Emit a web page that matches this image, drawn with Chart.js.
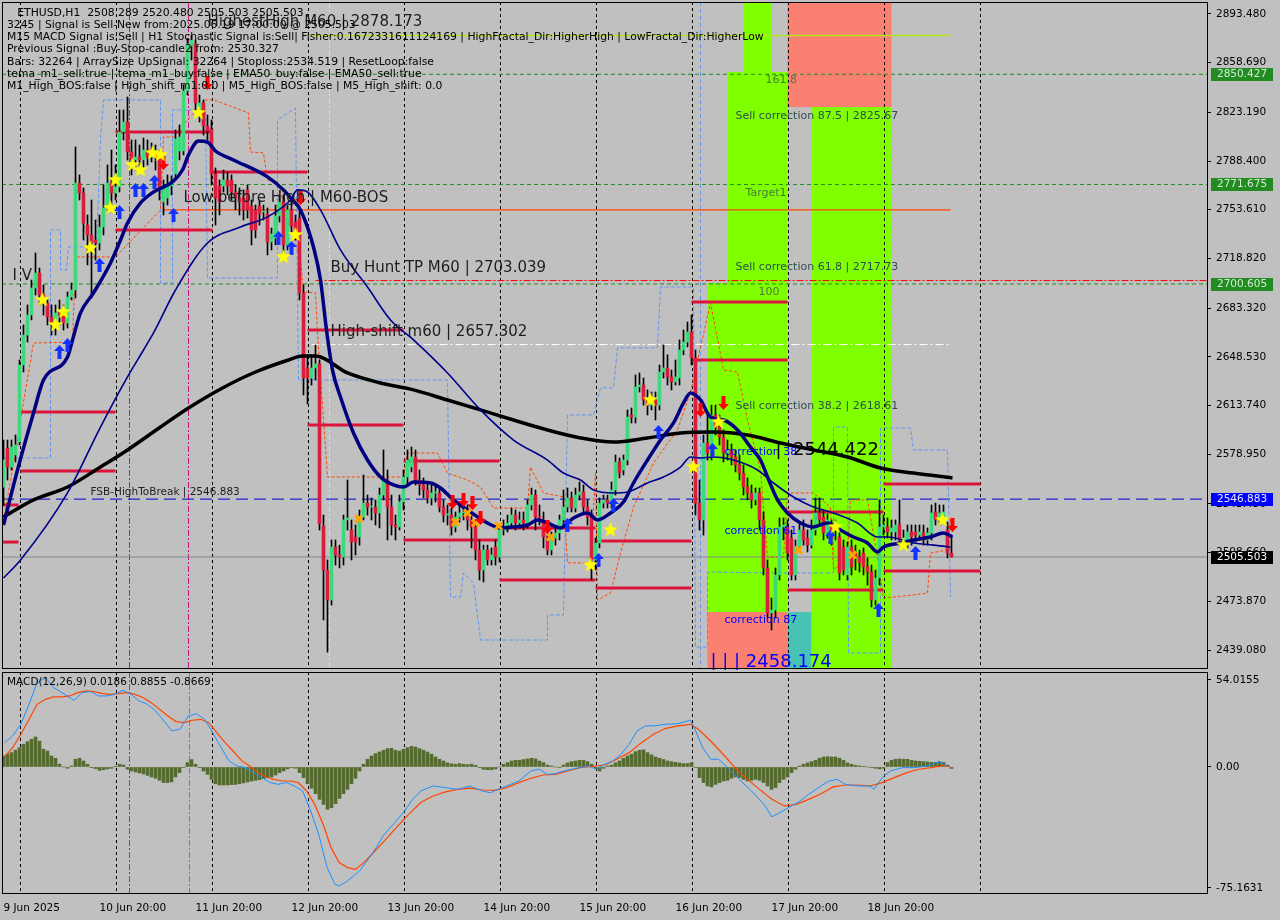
<!DOCTYPE html>
<html>
<head>
<meta charset="utf-8">
<script src="https://cdn.jsdelivr.net/npm/chart.js@4.4.1/dist/chart.umd.min.js"></script>
<style>
  html, body { margin: 0; padding: 0; background: #c0c0c0; }
  #wrap { position: relative; width: 1280px; height: 920px; overflow: hidden; }
  #main { position: absolute; left: 0; top: 0; }
  #macd { position: absolute; left: 0; top: 670px; }
</style>
</head>
<body>
<div id="wrap">
  <canvas id="main" width="1280" height="670"></canvas>
  <canvas id="macd" width="1280" height="250"></canvas>
</div>
<script>
// ---- ETHUSD H1, one value per bar (bar 0 = 9 Jun 20:00) ----
const opens = [
2555.5,2583.4,2569.8,2578.4,2587.7,2642.7,2664.1,2678.4,2697.7,2708.4,
2692.7,2687.0,2677.0,2669.9,2679.9,2682.0,2672.7,2691.3,2696.3,2772.7,
2765.6,2742.7,2735.6,2732.0,2729.9,2741.3,2754.9,2772.7,2765.6,2769.9,
2809.2,2816.3,2794.9,2789.2,2791.3,2789.2,2796.3,2791.3,2794.2,2791.3,
2759.2,2762.0,2770.6,2779.2,2795.6,2795.6,2838.5,2870.6,2872.1,2821.3,
2829.9,2813.5,2811.3,2779.2,2770.6,2770.6,2774.9,2774.9,2766.3,2762.0,
2762.0,2767.8,2756.3,2753.5,2756.3,2752.0,2750.6,2730.6,2733.5,2749.2,
2759.2,2728.5,2753.5,2744.9,2747.7,2694.2,2640.6,2633.4,2640.6,2643.5,
2527.7,2496.2,2474.8,2512.7,2507.0,2505.5,2532.0,2524.8,2519.8,2519.8,
2534.0,2544.0,2541.2,2541.2,2537.0,2549.8,2560.5,2541.2,2528.4,2527.0,
2544.8,2562.7,2569.8,2577.0,2560.5,2557.0,2553.4,2547.7,2551.3,2551.3,
2541.2,2535.5,2535.5,2527.0,2534.0,2537.0,2537.0,2532.0,2527.0,2510.5,
2496.2,2510.5,2503.4,2512.7,2505.5,2524.8,2527.0,2529.8,2535.5,2529.8,
2532.0,2529.8,2542.7,2549.8,2534.0,2532.0,2519.8,2510.5,2519.0,2522.7,
2532.0,2541.2,2547.7,2540.5,2549.8,2552.0,2541.2,2534.0,2503.4,2515.5,
2544.0,2546.3,2544.0,2553.4,2573.4,2567.7,2574.8,2607.0,2605.5,2627.0,
2628.4,2617.7,2614.0,2617.7,2614.0,2637.7,2640.6,2634.2,2630.6,2633.4,
2653.4,2659.1,2666.3,2647.7,2544.0,2532.0,2587.0,2579.8,2607.0,2598.4,
2591.3,2579.8,2582.0,2577.0,2571.3,2565.5,2555.5,2551.3,2546.3,2551.3,
2532.0,2497.7,2465.5,2467.7,2492.7,2527.0,2527.0,2519.0,2492.7,2512.7,
2524.8,2519.0,2514.0,2524.8,2537.0,2534.0,2522.7,2527.0,2524.8,2519.8,
2512.7,2492.7,2512.7,2508.4,2505.5,2508.4,2498.4,2494.8,2474.8,2490.5,
2527.0,2527.0,2523.4,2523.4,2528.4,2517.7,2516.2,2523.4,2523.4,2521.2,
2522.7,2517.7,2522.7,2537.7,2532.0,2534.0,2524.8,2508.3];
const highs = [
2589.1,2589.1,2589.1,2592.7,2646.3,2671.3,2685.6,2703.4,2722.7,2712.0,
2699.9,2689.2,2685.6,2685.6,2689.2,2685.6,2694.9,2701.3,2798.5,2778.5,
2769.2,2749.9,2760.6,2746.3,2749.9,2771.3,2785.6,2796.3,2785.6,2824.9,
2824.9,2834.2,2803.5,2803.5,2799.9,2804.9,2803.5,2801.3,2799.9,2796.3,
2774.9,2778.5,2777.8,2810.6,2814.2,2842.8,2876.0,2878.2,2874.9,2835.6,
2832.1,2821.3,2817.8,2783.5,2774.9,2782.0,2780.6,2778.5,2771.3,2769.2,
2767.8,2771.3,2760.6,2757.0,2760.6,2757.0,2754.9,2740.6,2757.0,2764.2,
2764.2,2757.0,2760.6,2749.9,2753.5,2699.9,2650.0,2650.0,2657.0,2646.3,
2535.5,2503.4,2517.7,2517.7,2514.0,2535.5,2560.5,2532.0,2528.4,2539.1,
2564.1,2549.8,2547.7,2546.3,2554.8,2582.0,2567.7,2549.8,2535.5,2549.8,
2567.7,2582.0,2584.1,2582.0,2567.7,2562.0,2559.1,2557.0,2557.0,2554.8,
2546.3,2542.7,2540.5,2537.7,2542.7,2542.7,2542.7,2537.7,2532.0,2517.7,
2514.0,2514.0,2512.0,2517.7,2528.4,2532.0,2535.5,2540.5,2539.1,2537.7,
2537.7,2546.3,2554.8,2553.4,2542.7,2537.7,2524.8,2523.4,2528.4,2535.5,
2553.4,2554.8,2552.0,2554.8,2559.1,2557.0,2546.3,2539.1,2519.0,2547.7,
2549.8,2549.8,2559.1,2578.4,2576.3,2578.4,2610.6,2612.0,2635.6,2637.0,
2633.4,2624.9,2623.4,2623.4,2642.7,2657.0,2650.0,2639.1,2646.3,2660.6,
2667.7,2673.4,2678.4,2653.4,2560.5,2592.7,2607.0,2614.0,2614.0,2607.0,
2596.3,2589.1,2586.3,2582.0,2578.4,2571.3,2562.0,2557.0,2554.8,2554.8,
2537.7,2503.4,2476.2,2497.7,2533.4,2533.4,2532.0,2524.8,2517.7,2530.5,
2532.0,2524.8,2532.0,2547.7,2547.7,2539.1,2536.3,2532.0,2532.0,2524.8,
2517.7,2516.2,2517.7,2514.0,2510.5,2512.0,2504.8,2499.8,2496.2,2546.3,
2535.5,2533.4,2532.0,2532.0,2546.3,2524.8,2528.4,2528.4,2528.4,2528.4,
2528.4,2526.3,2542.7,2544.0,2542.7,2542.7,2530.5,2520.5];
const lows = [
2542.7,2560.5,2567.7,2573.4,2585.6,2637.7,2659.1,2674.9,2692.7,2685.6,
2678.4,2671.3,2664.1,2664.1,2671.3,2667.7,2669.1,2689.2,2690.6,2760.6,
2732.0,2714.2,2690.6,2717.7,2724.9,2735.6,2752.0,2757.0,2760.6,2766.3,
2803.5,2789.2,2778.5,2782.0,2783.5,2783.5,2785.6,2787.8,2782.0,2760.6,
2749.9,2757.0,2764.2,2774.9,2789.2,2792.8,2835.6,2860.6,2824.9,2816.3,
2807.0,2803.5,2771.3,2742.7,2749.9,2766.3,2764.2,2760.6,2753.5,2749.9,
2746.3,2747.7,2728.5,2733.5,2742.7,2746.3,2721.3,2724.9,2728.5,2744.9,
2719.2,2724.9,2737.7,2732.0,2689.2,2621.3,2614.8,2628.4,2632.0,2524.8,
2460.5,2437.6,2471.2,2499.8,2497.7,2499.8,2524.8,2503.4,2507.0,2514.0,
2532.0,2535.5,2532.0,2528.4,2526.3,2546.3,2517.7,2521.2,2517.7,2524.8,
2539.1,2557.0,2566.3,2557.0,2549.8,2547.7,2544.0,2542.7,2544.8,2537.7,
2530.5,2528.4,2521.2,2523.4,2530.5,2532.0,2524.8,2512.0,2503.4,2489.1,
2487.7,2499.8,2499.8,2499.8,2502.0,2521.2,2523.4,2526.3,2524.8,2526.3,
2524.8,2526.3,2539.1,2524.8,2528.4,2512.0,2507.0,2507.0,2514.0,2517.7,
2528.4,2537.7,2537.7,2537.7,2546.3,2537.7,2528.4,2489.1,2496.2,2512.0,
2540.5,2540.5,2540.5,2549.8,2562.0,2564.1,2571.3,2601.3,2601.3,2623.4,
2614.0,2607.0,2610.6,2603.4,2610.6,2633.4,2628.4,2624.9,2628.4,2628.4,
2650.0,2655.6,2642.7,2535.5,2524.8,2521.2,2574.8,2574.8,2592.7,2585.6,
2573.4,2574.8,2571.3,2566.3,2560.5,2549.8,2546.3,2540.5,2542.7,2524.8,
2492.7,2462.0,2453.4,2462.0,2489.1,2517.7,2503.4,2489.1,2489.1,2510.5,
2514.0,2509.1,2512.0,2521.2,2528.4,2517.7,2519.0,2514.0,2517.7,2489.1,
2492.7,2489.1,2492.7,2496.2,2494.8,2492.7,2485.5,2469.8,2471.2,2485.5,
2521.2,2519.0,2517.7,2517.7,2514.0,2512.0,2512.0,2514.0,2516.2,2517.7,
2514.0,2514.0,2517.7,2528.4,2528.4,2530.5,2504.8,2505.5];
const closes = [
2574.8,2569.8,2584.1,2585.6,2642.7,2664.1,2678.4,2697.7,2708.4,2692.7,
2689.2,2677.0,2672.7,2679.9,2678.4,2672.7,2691.3,2696.3,2772.7,2765.6,
2744.2,2735.6,2730.6,2729.9,2741.3,2754.9,2772.7,2765.6,2769.9,2809.2,
2816.3,2794.9,2789.2,2791.3,2789.2,2796.3,2791.3,2794.2,2791.3,2767.8,
2770.6,2772.0,2771.5,2804.2,2805.6,2838.5,2872.1,2874.9,2829.9,2829.9,
2813.5,2809.9,2779.2,2762.0,2759.2,2774.9,2770.6,2766.3,2762.0,2759.2,
2753.5,2753.5,2739.2,2739.2,2750.6,2752.7,2730.6,2736.3,2749.2,2759.2,
2728.5,2753.5,2742.0,2739.2,2694.2,2633.4,2633.4,2640.6,2643.5,2529.2,
2496.2,2474.8,2512.7,2507.0,2505.5,2532.0,2533.4,2516.2,2516.2,2534.0,
2544.0,2541.2,2541.9,2537.0,2549.8,2560.5,2541.2,2528.4,2527.0,2544.8,
2562.7,2574.8,2577.0,2560.5,2557.0,2553.4,2547.7,2551.3,2552.0,2541.2,
2535.5,2536.3,2527.0,2534.0,2537.0,2537.7,2532.0,2527.0,2510.5,2496.2,
2510.5,2503.4,2507.0,2505.5,2524.8,2527.0,2529.8,2535.5,2529.8,2532.0,
2529.8,2542.7,2549.8,2534.0,2533.4,2519.8,2510.5,2519.0,2522.7,2532.0,
2541.2,2547.7,2540.5,2549.8,2552.0,2541.2,2534.0,2503.4,2515.5,2544.0,
2546.3,2544.0,2553.4,2573.4,2565.5,2574.8,2605.5,2605.5,2627.0,2628.4,
2617.7,2614.0,2617.7,2614.0,2637.7,2640.6,2634.2,2630.6,2634.2,2653.4,
2659.1,2666.3,2647.7,2544.0,2532.0,2587.0,2579.8,2607.0,2598.4,2591.3,
2579.8,2582.0,2577.0,2571.3,2565.5,2555.5,2551.3,2546.3,2551.3,2532.0,
2497.7,2465.5,2467.7,2492.7,2527.0,2528.4,2508.4,2492.7,2512.7,2524.8,
2517.7,2514.0,2524.8,2537.0,2532.0,2522.7,2532.0,2519.8,2527.0,2494.0,
2496.2,2512.7,2498.4,2505.5,2501.3,2498.4,2494.8,2474.8,2490.5,2527.0,
2528.4,2523.4,2526.3,2528.4,2517.7,2519.0,2523.4,2519.8,2521.2,2523.4,
2517.7,2522.7,2537.0,2532.0,2537.0,2537.7,2508.4,2505.5];

// moving averages: [bar, price]
const fastMA = [[0,2528.4],[3.5,2567.7],[7.5,2608.4],[10,2632.0],[16,2648.4],[17.25,2660.6],[19.25,2679.9],[22.5,2694.2],[26.75,2715.6],[29.25,2732.0],[31,2744.2],[34.25,2758.5],[37.5,2766.3],[42.25,2773.5],[44.75,2782.0],[46.25,2792.8],[48.75,2802.8],[51,2802.0],[53,2795.6],[57.5,2789.2],[66,2777.1],[70,2767.8],[72.25,2760.6],[74.25,2753.5],[77.5,2727.0],[79.25,2703.4],[80.75,2667.7],[82.25,2639.1],[84.25,2619.8],[87.5,2594.1],[91,2574.8],[94.25,2562.7],[97.5,2557.0],[100,2555.5],[102.5,2559.1],[106.75,2558.4],[109.25,2554.8],[112.5,2546.3],[116.75,2537.7],[121,2529.8],[124.25,2526.3],[127.5,2527.0],[131,2528.4],[133.5,2532.0],[136,2529.8],[139.25,2526.3],[142.5,2533.4],[146,2537.0],[148.5,2532.0],[151.75,2537.0],[155,2544.8],[157.5,2558.4],[161,2574.8],[164.25,2589.1],[167.5,2601.3],[170,2615.6],[171.75,2622.7],[174.25,2617.7],[176.75,2605.5],[180,2603.4],[183.5,2596.3],[186.75,2584.1],[189.25,2574.8],[191,2562.7],[193.5,2546.3],[196,2537.0],[199.25,2529.8],[202.5,2527.0],[206,2529.8],[209.25,2524.8],[212.5,2519.8],[216,2515.5],[218.5,2509.1],[220,2512.7],[224.25,2515.5],[227.5,2517.7],[231.75,2519.8],[235,2522.7],[237.25,2519.8]];
const slowMA = [[0,2490.5],[4.25,2503.4],[16,2551.3],[24.25,2598.4],[31,2634.2],[35,2653.4],[37.5,2665.6],[43,2696.3],[51,2729.9],[59.25,2741.3],[66,2748.5],[71.75,2760.6],[73.5,2767.8],[76,2766.3],[79.25,2753.5],[84.25,2724.9],[91,2698.4],[96.75,2674.9],[102.5,2660.6],[111,2637.0],[119.25,2610.6],[127.5,2589.1],[136,2574.8],[140,2565.5],[144.25,2560.5],[147.5,2553.4],[152.5,2551.3],[156,2552.0],[161,2558.4],[165,2562.7],[169.25,2569.8],[171.75,2577.0],[174.25,2576.3],[177.5,2577.0],[182.5,2574.8],[188.5,2567.7],[192.5,2558.4],[197.5,2548.4],[202.5,2541.2],[207.5,2537.0],[213.5,2529.8],[218.5,2519.8],[221,2519.8],[227.5,2515.5],[232.5,2514.0],[236.75,2512.7]];
const ma200 = [[0,2534.1],[7.5,2546.3],[16,2555.5],[24.25,2569.8],[31,2582.0],[39.25,2598.4],[46.25,2612.0],[54.75,2626.3],[63,2637.7],[71.25,2646.3],[74.75,2649.1],[78,2649.1],[86,2637.0],[94.25,2629.8],[102.5,2624.9],[111,2617.7],[119.25,2610.6],[127.5,2603.4],[136,2596.3],[144.25,2590.6],[152.5,2587.7],[161,2590.6],[169.25,2594.1],[177.5,2594.8],[186,2592.7],[194.25,2587.0],[202.5,2582.0],[211,2577.0],[219.25,2569.1],[227.5,2565.5],[237.25,2562.0]];

// channel lines (dashed)
const orangeBand = [[-0.25,2528.4],[3.5,2587.7],[4.25,2603.4],[7.5,2658.4],[17.25,2659.1],[18,2719.9],[28,2719.9],[39.25,2753.5],[40,2805.6],[42.5,2805.6],[46,2817.8],[50.5,2832.1],[52.5,2832.1],[61.25,2822.8],[61.75,2794.9],[65,2794.2],[66,2774.9],[68.5,2773.5],[74.25,2717.7],[75,2694.9],[78,2694.2],[78.5,2665.6],[81,2562.7],[100,2562.7],[101,2579.8],[108.5,2579.8],[111,2565.5],[116,2560.5],[119.25,2555.5],[122.5,2540.5],[131,2540.5],[131.75,2569.8],[135,2551.3],[140,2548.4],[141,2501.3],[146.75,2501.3],[148,2566.3],[148.5,2474.8],[151.75,2479.8],[154.25,2508.4],[157.5,2541.2],[162.5,2572.7],[168.5,2596.3],[171.75,2623.4],[176.75,2687.0],[180,2639.1],[183.5,2637.7],[186,2603.4],[189.25,2567.7],[191,2505.5],[195,2505.5],[196,2551.3],[202.5,2551.3],[206.75,2541.2],[207.5,2496.2],[211,2505.5],[211.75,2546.3],[216,2546.3],[218.5,2505.5],[220,2476.2],[227.5,2478.4],[231,2479.8],[231.75,2508.4],[236,2510.5],[236.75,2534.1]];
const blueBand = [[-0.25,2576.3],[11.75,2576.3],[11.75,2739.2],[14.25,2739.2],[14.25,2710.6],[15.75,2710.6],[16.25,2727.0],[23.25,2727.0],[24.25,2803.5],[25,2832.1],[39.25,2832.1],[39.25,2701.3],[42.25,2701.3],[42.25,2824.9],[50.5,2824.9],[51,2704.9],[68.5,2704.9],[68.5,2817.8],[73,2826.3],[73.75,2632.0],[111,2632.0],[111.75,2477.0],[114.25,2477.0],[115,2494.1],[117.5,2486.9],[119.25,2446.2],[136,2446.2],[136,2464.1],[140,2464.1],[141,2607.0],[147.5,2607.0],[149.25,2626.3],[152.5,2626.3],[153.5,2654.9],[163.5,2654.9],[164.25,2698.4],[172.5,2698.4],[173,2441.2],[176,2441.2],[176,2494.8],[194.25,2494.1],[207.5,2494.1],[207.5,2598.4],[211,2598.4],[211.25,2436.9],[219.25,2436.9],[219.25,2597.7],[226.75,2597.7],[227.5,2582.0],[236,2582.0],[236.75,2477.0]];

// MACD panel
const hist = [
6.8,7.9,8.9,10.4,12.0,14.1,15.7,17.2,18.6,16.1,
11.0,9.9,6.8,5.4,1.7,0,-0.8,0.6,4.8,5.4,
3.7,1.7,-0.4,-1.0,-2.1,-1.7,-1.2,-0.8,0.2,1.7,
1.2,-1.4,-2.5,-3.1,-3.7,-4.3,-5.2,-6.2,-7.0,-8.3,
-9.7,-9.7,-9.3,-6.2,-3.5,-0.4,2.7,4.6,1.7,-0.4,
-2.5,-4.6,-7.7,-10.4,-11.2,-11.2,-11.2,-11.0,-10.8,-10.4,
-9.9,-9.3,-8.7,-8.3,-7.9,-7.2,-6.6,-6.2,-5.0,-3.5,
-2.5,-1.2,-0.4,-0.8,-3.5,-6.6,-10.4,-13.2,-16.6,-20.1,
-23.2,-26.3,-25.3,-22.8,-19.5,-16.6,-13.9,-10.4,-7.0,-2.5,
1.7,4.8,6.8,8.3,9.3,10.4,11.4,11.6,10.4,9.9,
11.0,12.0,12.8,12.4,11.4,10.4,9.3,7.9,6.2,4.8,
3.7,2.5,1.9,1.7,2.1,1.7,1.4,1.7,1.0,-0.4,
-1.4,-1.7,-1.7,-1.2,0,1.7,2.7,3.7,4.1,4.1,
4.6,5.0,5.4,5.0,3.7,2.7,1.2,0.6,0,-0.4,
1.2,2.5,3.3,3.7,4.1,4.1,3.3,1.7,-0.8,-2.5,
-0.8,0.6,1.2,2.5,3.7,5.4,6.8,7.9,9.5,10.4,
10.6,8.9,7.5,6.2,5.4,4.6,3.7,3.3,2.9,2.5,
2.1,2.1,2.7,-0.4,-6.6,-9.7,-11.8,-12.4,-10.8,-9.7,
-8.7,-8.3,-7.0,-6.2,-6.6,-7.7,-8.7,-8.3,-7.7,-8.3,
-9.7,-11.8,-13.9,-12.8,-9.7,-7.7,-6.2,-3.5,-1.4,0.6,
1.7,2.5,3.3,4.1,5.4,6.2,6.4,6.2,6.2,5.4,
4.1,2.5,1.7,1.0,0.6,0.4,0,-0.4,-0.8,-1.2,
-0.8,2.7,4.1,4.8,5.0,4.8,4.8,4.1,3.7,3.5,
3.3,3.1,2.9,2.9,3.3,2.9,1.2,-0.9];
const macdLine = [[0.27,15.1],[2.3,19.3],[4.35,26.5],[6.4,39.0],[8.4,52.4],[10.5,55.5],[12.5,49.3],[14.6,46.2],[16.6,43.0],[17.6,41.4],[19.7,46.2],[21.7,46.8],[23.7,44.1],[25.8,44.1],[27.8,45.1],[29.9,47.6],[31.9,45.1],[33.9,41.0],[36.0,38.9],[38.0,34.8],[40.1,28.6],[42.1,22.4],[44.1,23.4],[46.2,31.7],[48.2,33.1],[50.3,29.6],[52.3,21.3],[54.4,12.0],[56.4,3.7],[58.4,0.6],[60.5,-0.4],[62.5,-3.5],[64.6,-6.6],[66.6,-9.7],[68.6,-10.8],[70.7,-9.7],[72.7,-11.8],[74.8,-14.9],[76.8,-27.3],[78.8,-41.8],[80.9,-62.5],[82.9,-72.9],[83.9,-73.9],[86.0,-70.8],[89.0,-64.6],[92.1,-54.2],[95.2,-41.8],[98.2,-33.5],[100.3,-27.3],[102.3,-20.1],[104.3,-14.9],[107.4,-11.8],[110.5,-12.8],[113.5,-13.9],[116.6,-11.8],[119.7,-14.9],[121.7,-16.0],[123.7,-13.9],[125.8,-11.8],[128.8,-8.7],[131.9,-2.5],[133.9,-1.4],[136.0,-4.6],[138.0,-4.1],[140.1,-2.5],[142.1,-1.4],[144.1,-0.4],[146.2,0.6],[148.2,-1.4],[150.3,1.7],[152.3,3.7],[154.4,7.9],[156.4,14.1],[158.4,22.4],[160.5,25.5],[162.5,25.5],[165.6,26.5],[168.6,26.9],[171.7,29.0],[172.7,24.4],[174.8,12.0],[176.8,4.8],[178.8,4.8],[181.9,-2.5],[183.9,-7.7],[187.0,-14.9],[190.1,-23.2],[192.1,-31.0],[194.1,-28.3],[196.2,-25.3],[199.2,-21.1],[201.3,-17.0],[204.4,-11.8],[206.4,-8.7],[208.4,-7.7],[210.5,-10.8],[213.5,-11.8],[216.6,-11.8],[217.6,-13.9],[219.7,-6.6],[221.7,-2.5],[224.8,-0.4],[227.8,-0.4],[230.9,0.6],[233.9,3.3],[236.0,0.6]];
const signalLine = [[0.27,6.2],[2.3,12.0],[4.35,20.3],[6.4,29.6],[8.4,38.9],[10.5,42.0],[12.5,43.5],[14.6,43.5],[16.6,44.1],[18.6,46.2],[20.7,47.2],[22.7,46.8],[24.8,45.5],[26.8,45.1],[28.8,45.5],[30.9,46.2],[32.9,45.1],[35.0,43.0],[37.0,39.8],[39.0,35.8],[41.1,31.7],[43.1,28.2],[45.2,27.5],[47.2,29.0],[49.3,29.6],[51.3,27.5],[53.3,21.3],[55.4,15.1],[57.4,9.9],[59.5,4.1],[61.5,0.6],[63.5,-3.5],[65.6,-6.2],[67.6,-7.7],[69.7,-8.7],[71.7,-8.7],[73.7,-9.7],[75.8,-14.9],[77.8,-23.2],[79.9,-35.6],[81.9,-50.1],[83.9,-59.4],[86.0,-62.5],[88.0,-63.6],[90.1,-59.4],[92.1,-54.2],[95.2,-45.9],[98.2,-37.7],[101.3,-29.4],[104.3,-22.1],[107.4,-18.0],[110.5,-15.5],[113.5,-13.9],[116.6,-13.2],[119.7,-14.3],[122.7,-14.5],[125.8,-12.8],[128.8,-9.7],[131.9,-7.0],[134.9,-5.0],[138.0,-4.6],[141.1,-2.5],[144.1,-0.4],[147.2,0.4],[150.3,1.2],[153.3,4.8],[156.4,8.9],[159.5,15.1],[162.5,20.3],[165.6,24.0],[168.6,25.5],[171.7,26.5],[173.7,23.4],[176.8,16.1],[179.9,7.9],[182.9,-0.4],[186.0,-7.7],[189.0,-13.9],[192.1,-20.1],[195.2,-24.2],[198.2,-23.2],[201.3,-20.1],[204.4,-16.6],[207.4,-12.4],[210.5,-11.2],[213.5,-11.2],[216.6,-11.8],[219.7,-9.7],[222.7,-6.6],[225.8,-3.5],[228.8,-1.4],[231.9,-0.4],[235.0,1.0],[236.6,0.2]];

// signal markers: [bar, price]
const stars = [[9.75,2689.2],[13,2671.3],[15,2680.6],[21.75,2726.3],[26.75,2754.9],[28,2774.9],[32.25,2785.6],[34.25,2782.0],[37.25,2794.2],[39.25,2792.8],[48.75,2822.8],[70,2719.9],[73,2735.6],[146.75,2499.8],[151.75,2524.8],[161.75,2617.7],[172.5,2569.8],[178.75,2602.0],[208,2527.0],[225,2514.0],[234.75,2532.0]];
const upArrows = [[14,2652.0],[16,2657.0],[24,2714.2],[29,2752.0],[33,2767.8],[35,2767.8],[37.75,2773.5],[42.5,2749.9],[68.75,2733.5],[72,2726.3],[141,2528.4],[148.75,2503.4],[152.5,2542.7],[163.75,2594.8],[177.25,2582.0],[206.75,2519.8],[218.75,2467.7],[228,2508.4]];
const downArrows = [[40,2787.0],[51,2844.2],[74.25,2762.0],[112.25,2544.8],[115,2546.3],[117.25,2544.0],[119.25,2533.4],[136,2527.0],[174.25,2610.5],[180,2615.6],[237.25,2528.4]];
const crosses = [[88.75,2532.7],[113,2530.5],[116,2537.0],[118,2529.8],[123.75,2527.7],[136.75,2519.8],[198.75,2510.5],[212.25,2507.0]];

// horizontal crimson segments: [fromBar, toBar, price]
const segs = [[-0.25,3.75,2542.7],[-0.25,3.75,2516.2],[4.25,28,2609.1],[4.25,28,2567.0],[28,52.25,2809.2],[28,52.25,2739.2],[52.25,76,2780.6],[76,100,2667.7],[76,100,2599.8],[100,124,2574.1],[100,124,2517.7],[124,148,2526.3],[124,148,2489.1],[148,172,2517.0],[148,172,2483.4],[172,196,2687.7],[172,196,2646.3],[196,220,2537.7],[196,220,2482.0],[220,244.25,2557.7],[220,244.25,2495.5]];

// correction zones: [fromBar, toBar, lowPrice, highPrice, kind]
const zones = [[185,192,2852.1,2902.1,'lime'],[181,196,2701.3,2852.1,'lime'],[176,196,2466.2,2701.3,'lime'],[176,196,2426.2,2466.2,'salmon'],[196,202,2426.2,2466.2,'teal'],[202,222,2426.2,2827.0,'lime'],[196,222,2827.0,2902.1,'salmon']];

const priceTicks = [2893.48,2858.69,2823.19,2788.40,2753.61,2718.82,2683.32,2648.53,2613.74,2578.95,2543.45,2508.66,2473.87,2439.08];
const macdTicks = [54.0155, 0, -75.1631];
const timeIdx = [0,24,48,72,96,120,144,168,192,216];
const timeLabels = ['9 Jun 2025','10 Jun 20:00','11 Jun 20:00','12 Jun 20:00','13 Jun 20:00','14 Jun 20:00','15 Jun 20:00','16 Jun 20:00','17 Jun 20:00','18 Jun 20:00'];
const dayLines = [4,28,52,76,100,124,148,172,196,220,244];

const X_MIN = -0.375, X_MAX = 300.875;
const Y_MIN = 2426.22, Y_MAX = 2902.05;
const FONT = 'DejaVu Sans';

const zoneColor = { lime: '#7fff00', salmon: '#fa8072', teal: '#48c2b4' };

function pts(arr) { return arr.map(p => ({ x: p[0], y: p[1] })); }

function starImg(r) {
  const c = document.createElement('canvas');
  c.width = c.height = r * 2 + 2;
  const g = c.getContext('2d');
  g.beginPath();
  for (let k = 0; k < 10; k++) {
    const a = -Math.PI / 2 + k * Math.PI / 5;
    const rr = k % 2 ? r * 0.42 : r;
    g.lineTo(r + 1 + rr * Math.cos(a), r + 1 + rr * Math.sin(a));
  }
  g.closePath();
  g.fillStyle = '#ffff00';
  g.fill();
  return c;
}

function arrowImg(color, up) {
  const c = document.createElement('canvas');
  c.width = 11; c.height = 14;
  const g = c.getContext('2d');
  let p = [[5.5,0],[11,6],[7.5,6],[7.5,14],[3.5,14],[3.5,6],[0,6]];
  if (!up) p = p.map(q => [q[0], 14 - q[1]]);
  g.beginPath();
  p.forEach(q => g.lineTo(q[0], q[1]));
  g.closePath();
  g.fillStyle = color;
  g.fill();
  return c;
}

function hline(from, to, v, color, width, dash, order) {
  return { type: 'line', data: [{ x: from, y: v }, { x: to, y: v }], borderColor: color, borderWidth: width,
    borderDash: dash || [], pointRadius: 0, order: order };
}

// strip the automatic label padding so the plot box lands where MT4 puts it
function noPad(s) { s.paddingTop = 0; s.paddingBottom = 0; s.paddingLeft = 0; s.paddingRight = 0; }

// ---------- main chart ----------
const bull = '#3cd87c', bear = '#d81e3c';
const candleColors = closes.map((c, i) => c >= opens[i] ? bull : bear);

const datasets = [];
datasets.push({ type: 'bar', data: closes.map((c, i) => ({ x: i, y: [opens[i], c] })), backgroundColor: candleColors,
  barThickness: 3, minBarLength: 1, grouped: false, order: 20 });
datasets.push({ type: 'bar', data: closes.map((c, i) => ({ x: i, y: [lows[i], highs[i]] })), backgroundColor: '#000000',
  barThickness: 1, grouped: false, order: 21 });

datasets.push({ type: 'line', data: pts(ma200), borderColor: '#000000', borderWidth: 3.5, pointRadius: 0, cubicInterpolationMode: 'monotone', order: 12 });
datasets.push({ type: 'line', data: pts(slowMA), borderColor: '#00008b', borderWidth: 1.6, pointRadius: 0, cubicInterpolationMode: 'monotone', order: 11 });
datasets.push({ type: 'line', data: pts(fastMA), borderColor: '#000080', borderWidth: 3.5, pointRadius: 0, cubicInterpolationMode: 'monotone', order: 10 });
datasets.push({ type: 'line', data: pts(orangeBand), borderColor: '#ff4500', borderWidth: 1, borderDash: [3, 2], pointRadius: 0, order: 24 });
datasets.push({ type: 'line', data: pts(blueBand), borderColor: '#6495ed', borderWidth: 1, borderDash: [4, 2], pointRadius: 0, order: 25 });

segs.forEach(s => datasets.push(hline(s[0], s[1], s[2], '#dc143c', 3, null, 23)));
datasets.push(hline(X_MIN, X_MAX, 2850.427, '#228b22', 1, [4, 3], 26));
datasets.push(hline(X_MIN, X_MAX, 2771.675, '#228b22', 1, [4, 3], 26));
datasets.push(hline(X_MIN, X_MAX, 2700.605, '#228b22', 1, [4, 3], 26));
datasets.push(hline(78, X_MAX, 2703.039, '#ff0000', 1, [7, 2, 2, 2], 26));
datasets.push(hline(76.75, 236.75, 2878.2, '#b5e61d', 1.5, null, 26));
datasets.push(hline(40, 236.75, 2753.5, '#ff4500', 1.2, null, 26));
datasets.push(hline(77, 236.75, 2657.302, '#ffffff', 1, [8, 3, 2, 3], 26));
datasets.push(hline(X_MIN, X_MAX, 2546.883, '#0000cd', 1, [12, 6], 26));
datasets.push(hline(X_MIN, X_MAX, 2505.503, '#7d8890', 1, null, 26));

datasets.push({ type: 'line', showLine: false, data: pts(stars), pointStyle: starImg(8), pointRadius: 5, order: 2 });
datasets.push({ type: 'line', showLine: false, data: pts(upArrows), pointStyle: arrowImg('#1432ff', true), pointRadius: 5, order: 2 });
datasets.push({ type: 'line', showLine: false, data: pts(downArrows), pointStyle: arrowImg('#ff0000', false), pointRadius: 5, order: 2 });
datasets.push({ type: 'line', showLine: false, data: pts(crosses), pointStyle: 'crossRot', pointRadius: 5, borderColor: '#ffa500', borderWidth: 3, order: 2 });

// texts anchored to bar/price
const mainTexts = [
  { t: 'HighestHigh M60 | 2878.173', i: 51, p: 2887.8, size: 15, color: '#1e1e1e' },
  { t: 'Low before High | M60-BOS', i: 45, p: 2762.0, size: 15, color: '#1e1e1e' },
  { t: 'Buy Hunt TP M60 | 2703.039', i: 81.75, p: 2712.0, size: 15, color: '#1e1e1e' },
  { t: 'High-shift m60 | 2657.302', i: 81.75, p: 2666.3, size: 15, color: '#1e1e1e' },
  { t: 'I V', i: 2.25, p: 2706.3, size: 15, color: '#1e1e1e' },
  { t: 'FSB-HighToBreak | 2546.883', i: 21.75, p: 2551.9, size: 10.5, color: '#1e1e1e' },
  { t: '161.8', i: 190.5, p: 2846.3, size: 11, color: '#4a7a40' },
  { t: 'Sell correction 87.5 | 2825.67', i: 183, p: 2820.6, size: 11, color: '#2f4f4f' },
  { t: 'Target1', i: 185.5, p: 2765.6, size: 11, color: '#4a7a40' },
  { t: 'Sell correction 61.8 | 2717.73', i: 183, p: 2712.7, size: 11, color: '#2f4f4f' },
  { t: '100', i: 188.75, p: 2694.9, size: 11, color: '#4a7a40' },
  { t: 'Sell correction 38.2 | 2618.61', i: 183, p: 2613.4, size: 11, color: '#2f4f4f' },
  { t: 'correction 38', i: 180.25, p: 2580.5, size: 11, color: '#0000ff' },
  { t: '|  2544.422', i: 193, p: 2582.0, size: 18, color: '#000000' },
  { t: 'correction 61', i: 180.25, p: 2524.1, size: 11, color: '#0000ff' },
  { t: 'correction 87', i: 180.25, p: 2460.5, size: 11, color: '#0000ff' },
  { t: '| | | 2458.174', i: 176.75, p: 2430.6, size: 18, color: '#0000ff' }
];
const headerLines = [
  '   ETHUSD,H1  2508.289 2520.480 2505.503 2505.503',
  '3245 | Signal is Sell-New from:2025.06.19 17:00:00 @ 2505.503',
  'M15 MACD Signal is:Sell | H1 Stochastic Signal is:Sell| Fisher:0.1672331611124169 | HighFractal_Dir:HigherHigh | LowFractal_Dir:HigherLow',
  'Previous Signal :Buy-Stop-candle2 from: 2530.327',
  'Bars: 32264 | ArraySize UpSignal: 32264 | Stoploss:2534.519 | ResetLoop:false',
  'tema_m1_sell:true | tema_m1_buy:false | EMA50_buy:false | EMA50_sell:true',
  'M1_High_BOS:false | High_shift_m1:0.0 | M5_High_BOS:false | M5_High_shift: 0.0'
];
const axisTags = [
  { v: 2850.427, bg: '#228b22', fg: '#d4ecd4' },
  { v: 2771.675, bg: '#228b22', fg: '#d4ecd4' },
  { v: 2700.605, bg: '#228b22', fg: '#d4ecd4' },
  { v: 2546.883, bg: '#0000ff', fg: '#e8e8ff' },
  { v: 2505.503, bg: '#000000', fg: '#ffffff' }
];

function drawDayLines(chart, extra) {
  const ctx = chart.ctx, a = chart.chartArea, xs = chart.scales.x;
  ctx.save();
  ctx.lineWidth = 1;
  ctx.strokeStyle = '#000000';
  ctx.setLineDash([3, 3]);
  dayLines.forEach(i => {
    const x = Math.round(xs.getPixelForValue(i)) + 0.5;
    ctx.beginPath(); ctx.moveTo(x, a.top); ctx.lineTo(x, a.bottom); ctx.stroke();
  });
  extra.forEach(e => {
    const x = Math.round(xs.getPixelForValue(e.i)) + 0.5;
    ctx.strokeStyle = e.color; ctx.setLineDash(e.dash);
    ctx.beginPath(); ctx.moveTo(x, a.top); ctx.lineTo(x, a.bottom); ctx.stroke();
  });
  ctx.restore();
}

function drawFrame(chart) {
  const ctx = chart.ctx, a = chart.chartArea;
  ctx.save();
  ctx.strokeStyle = '#000000'; ctx.lineWidth = 1;
  ctx.strokeRect(Math.round(a.left) + 0.5, Math.round(a.top) + 0.5, Math.round(a.right - a.left), Math.round(a.bottom - a.top));
  ctx.restore();
}

const mainPlugin = {
  id: 'mainDecor',
  beforeDatasetsDraw(chart) {
    const ctx = chart.ctx, a = chart.chartArea, xs = chart.scales.x, ys = chart.scales.y;
    ctx.save();
    ctx.beginPath(); ctx.rect(a.left, a.top, a.right - a.left, a.bottom - a.top); ctx.clip();
    zones.forEach(z => {
      const x1 = xs.getPixelForValue(z[0]), x2 = xs.getPixelForValue(z[1]);
      const y1 = ys.getPixelForValue(z[3]), y2 = ys.getPixelForValue(z[2]);
      ctx.fillStyle = zoneColor[z[4]];
      ctx.fillRect(x1, y1, x2 - x1, y2 - y1);
    });
    ctx.restore();
    drawDayLines(chart, [
      { i: 31.25, color: '#c71585', dash: [6, 2, 2, 2] },
      { i: 46, color: '#c71585', dash: [6, 2, 2, 2] },
      { i: 81.25, color: '#b8e8f0', dash: [6, 2, 2, 2] },
      { i: 174, color: '#6495ed', dash: [4, 3] }
    ]);
  },
  afterDatasetsDraw(chart) {
    const ctx = chart.ctx, a = chart.chartArea, xs = chart.scales.x, ys = chart.scales.y;
    ctx.save();
    ctx.textBaseline = 'middle';
    ctx.textAlign = 'left';
    mainTexts.forEach(l => {
      ctx.font = l.size + 'px "' + FONT + '"';
      ctx.fillStyle = l.color;
      ctx.fillText(l.t, xs.getPixelForValue(l.i), ys.getPixelForValue(l.p));
    });
    ctx.font = '10.8px "' + FONT + '"';
    ctx.fillStyle = '#000000';
    headerLines.forEach((h, k) => ctx.fillText(h, a.left + 5, a.top + 11 + k * 12.2));
    ctx.restore();
  },
  afterDraw(chart) {
    const ctx = chart.ctx, a = chart.chartArea, ys = chart.scales.y;
    drawFrame(chart);
    ctx.save();
    ctx.font = '10.5px "' + FONT + '"';
    ctx.textBaseline = 'middle';
    axisTags.forEach(t => {
      const y = Math.round(ys.getPixelForValue(t.v));
      ctx.fillStyle = t.bg;
      ctx.fillRect(a.right + 4, y - 6, 62, 13);
      ctx.fillStyle = t.fg;
      ctx.fillText(t.v.toFixed(3), a.right + 10, y + 0.5);
    });
    ctx.restore();
  }
};

new Chart(document.getElementById('main'), {
  type: 'bar',
  data: { datasets: datasets },
  options: {
    responsive: false, animation: false, devicePixelRatio: 1,
    layout: { autoPadding: false, padding: { left: 2, top: 2, right: 0, bottom: 2 } },
    plugins: { legend: { display: false }, tooltip: { enabled: false } },
    events: [],
    scales: {
      x: { type: 'linear', min: X_MIN, max: X_MAX, offset: false, display: false },
      y: {
        position: 'right', min: Y_MIN, max: Y_MAX,
        afterFit: s => { s.width = 73; noPad(s); },
        afterBuildTicks: s => { s.ticks = priceTicks.map(v => ({ value: v })); },
        ticks: { color: '#000000', font: { family: FONT, size: 10.5 }, padding: 5, callback: v => v.toFixed(3) },
        grid: { drawOnChartArea: false, drawTicks: true, tickLength: 4, color: '#000000' },
        border: { display: false }
      }
    }
  },
  plugins: [mainPlugin]
});

// ---------- MACD chart ----------
const macdPlugin = {
  id: 'macdDecor',
  beforeDatasetsDraw(chart) {
    drawDayLines(chart, [
      { i: 31.25, color: '#ff00a0', dash: [6, 2, 2, 2] },
      { i: 46.25, color: '#808080', dash: [6, 2, 2, 2] }
    ]);
  },
  afterDraw(chart) {
    const ctx = chart.ctx, a = chart.chartArea;
    drawFrame(chart);
    ctx.save();
    ctx.font = '10.5px "' + FONT + '"';
    ctx.fillStyle = '#000000';
    ctx.textBaseline = 'middle';
    ctx.fillText('MACD(12,26,9) 0.0186 0.8855 -0.8669', a.left + 5, a.top + 10);
    ctx.restore();
  }
};

new Chart(document.getElementById('macd'), {
  type: 'bar',
  data: {
    datasets: [
      { type: 'line', data: pts(macdLine), borderColor: '#1e90ff', borderWidth: 1, pointRadius: 0, order: 1 },
      { type: 'line', data: pts(signalLine), borderColor: '#ff4500', borderWidth: 1.2, pointRadius: 0, order: 1 },
      { type: 'bar', data: hist.map((v, i) => ({ x: i, y: v })), backgroundColor: '#556b2f', barThickness: 3, grouped: false, order: 5 }
    ]
  },
  options: {
    responsive: false, animation: false, devicePixelRatio: 1,
    layout: { autoPadding: false, padding: { left: 2, top: 2, right: 0, bottom: 0 } },
    plugins: { legend: { display: false }, tooltip: { enabled: false } },
    events: [],
    scales: {
      x: {
        type: 'linear', min: X_MIN, max: X_MAX, offset: false,
        afterFit: s => { s.height = 27; noPad(s); },
        afterBuildTicks: s => { s.ticks = timeIdx.map(v => ({ value: v })); },
        ticks: { color: '#000000', font: { family: FONT, size: 10.5 }, padding: 1, align: 'start', maxRotation: 0, autoSkip: false,
          callback: (v) => timeLabels[timeIdx.indexOf(v)] },
        grid: { display: false },
        border: { display: false }
      },
      y: {
        position: 'right', min: -78.27, max: 58.98,
        afterFit: s => { s.width = 73; noPad(s); },
        afterBuildTicks: s => { s.ticks = macdTicks.map(v => ({ value: v })); },
        ticks: { color: '#000000', font: { family: FONT, size: 10.5 }, padding: 5, callback: v => v === 0 ? '0.00' : v.toFixed(4) },
        grid: { drawOnChartArea: false, drawTicks: true, tickLength: 4, color: '#000000' },
        border: { display: false }
      }
    }
  },
  plugins: [macdPlugin]
});
</script>
</body>
</html>
